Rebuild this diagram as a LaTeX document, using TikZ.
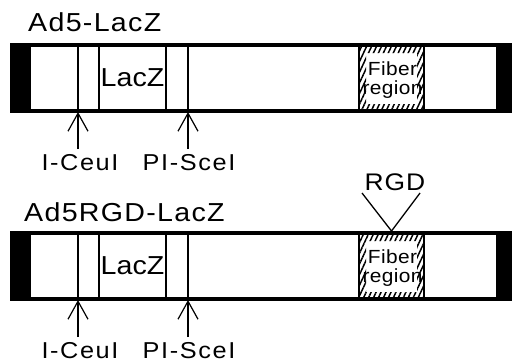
\documentclass[tikz,border=0pt]{standalone}
\usepackage{fontspec}
\setmainfont{Liberation Sans}[FakeStretch=1.1]
\usetikzlibrary{arrows.meta,patterns.meta}
\begin{document}
\begin{tikzpicture}[x=1pt,y=-1pt,
  barframe/.style={draw=black,line width=3.8pt},
  thinline/.style={line width=1.3pt},
  titletext/.style={font=\fontsize{26}{30}\selectfont\addfontfeatures{LetterSpace=5},anchor=west,inner sep=0pt},
  lactext/.style={font=\fontsize{26}{30}\selectfont,inner sep=0pt},
  sitetext/.style={font=\fontsize{23}{26}\selectfont\addfontfeatures{LetterSpace=7},inner sep=0pt,anchor=north},
  fibtext/.style={font=\fontsize{19}{20}\selectfont\addfontfeatures{LetterSpace=2},align=center,inner sep=0pt},
  cutarrow/.style={line width=1.2pt,shorten <=5pt,-{Straight Barb[length=18pt,width=20pt,line width=1.2pt]}},
  hatchfill/.style={pattern={Lines[angle=65,distance=4.5pt,line width=1.5pt]}},
]
\useasboundingbox (0,0) rectangle (512,364);

\foreach \k/\o in {1/0,2/188}{
  % bar
  \fill[black] (10,43+\o) rectangle (31,113+\o);
  \fill[black] (496,43+\o) rectangle (512,113+\o);
  \draw[barframe] (11.9,44.9+\o) rectangle (510.1,111.1+\o);
  % vertical markers
  \coordinate (ceuT\k) at (78,45+\o);
  \coordinate (ceuB\k) at (78,112+\o);
  \coordinate (sceT\k) at (188,45+\o);
  \coordinate (sceB\k) at (188,112+\o);
  \draw[thinline] (ceuT\k) -- (ceuB\k);
  \draw[thinline] (99,45+\o) -- (99,112+\o);
  \draw[thinline] (166,45+\o) -- (166,112+\o);
  \draw[thinline] (sceT\k) -- (sceB\k);
  \node[lactext] (lacz\k) at (132.5,78+\o) {LacZ};
  % fiber region
  \fill[hatchfill,even odd rule] (359,46+\o) rectangle (424,110+\o) (366,53+\o) rectangle (417,104+\o);
  \draw[line width=1.6pt] (359,45+\o) -- (359,112+\o) (424,45+\o) -- (424,112+\o);
  \node[fibtext] (fib\k) at (392.5,80+\o) {Fiber\\[-1pt]region};
  % sites
  \node[sitetext] (ceu\k) at (80,154+\o) {I-CeuI};
  \node[sitetext] (sce\k) at (189,154+\o) {PI-SceI};
  \draw[cutarrow] (ceu\k.north -| ceuB\k) -- (ceuB\k);
  \draw[cutarrow] (sce\k.north -| sceB\k) -- (sceB\k);
}

\node[titletext] (t1) at (28,22) {Ad5-LacZ};
\node[titletext] (t2) at (24,212) {Ad5RGD-LacZ};

\node[font=\fontsize{24}{28}\selectfont\addfontfeatures{LetterSpace=4},inner sep=0pt] (rgd) at (395,182) {RGD};
\coordinate (rgdL) at (362,193);
\coordinate (rgdR) at (420,193);
\coordinate (rgdTip) at (391.5,231);
\draw[line width=1.3pt] (rgdL) -- (rgdTip) -- (rgdR);
\end{tikzpicture}
\end{document}
